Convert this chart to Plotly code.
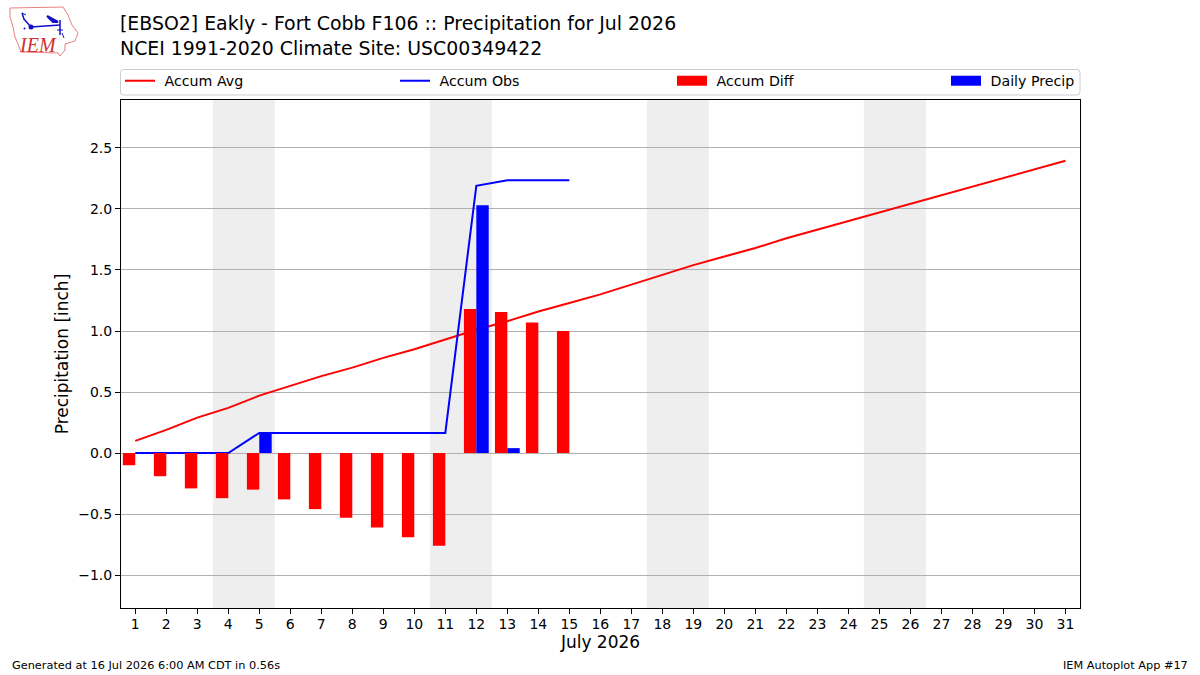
import plotly.graph_objects as go

WIDTH, HEIGHT = 1200, 675
LEFT, RIGHT, TOP, BOTTOM = 121, 1080, 100, 608

days = list(range(1, 32))
accum_avg = [0.10, 0.19, 0.29, 0.37, 0.47, 0.55, 0.63, 0.70, 0.78, 0.85, 0.93,
             1.01, 1.08, 1.16, 1.23, 1.30, 1.38, 1.46, 1.54, 1.61, 1.68, 1.76,
             1.83, 1.90, 1.97, 2.04, 2.11, 2.18, 2.25, 2.32, 2.395]
obs_days = list(range(1, 16))
accum_obs = [0, 0, 0, 0, 0.165, 0.165, 0.165, 0.165, 0.165, 0.165, 0.165,
             2.19, 2.235, 2.235, 2.235]
accum_diff = [-0.10, -0.19, -0.29, -0.37, -0.30, -0.38, -0.46, -0.53, -0.61,
              -0.69, -0.76, 1.18, 1.155, 1.07, 1.00]
daily_precip = [0, 0, 0, 0, 0.165, 0, 0, 0, 0, 0, 0, 2.03, 0.04, 0, 0]
weekend_spans = [(3.5, 5.5), (10.5, 12.5), (17.5, 19.5), (24.5, 26.5)]
y_ticks = [-1.0, -0.5, 0.0, 0.5, 1.0, 1.5, 2.0, 2.5]
y_tick_labels = ["\u22121.0", "\u22120.5", "0.0", "0.5", "1.0", "1.5", "2.0", "2.5"]
x_range = [0.54, 31.47]
y_range = [-1.27, 2.893]

FONT = "DejaVu Sans"
NBSP = "\u00a0"


def px(x):
    return (x - LEFT) / (RIGHT - LEFT)


def py(y):
    return (BOTTOM - y) / (BOTTOM - TOP)


def path(points, close=False):
    body = " L ".join(f"{px(x):.5f},{py(y):.5f}" for x, y in points)
    return "M " + body + (" Z" if close else "")


def rounded_box(x0, y0, x1, y1, r):
    c = lambda x, y: f"{px(x):.5f},{py(y):.5f}"
    return (f"M {c(x0 + r, y0)} L {c(x1 - r, y0)} Q {c(x1, y0)} {c(x1, y0 + r)} "
            f"L {c(x1, y1 - r)} Q {c(x1, y1)} {c(x1 - r, y1)} "
            f"L {c(x0 + r, y1)} Q {c(x0, y1)} {c(x0, y1 - r)} "
            f"L {c(x0, y0 + r)} Q {c(x0, y0)} {c(x0 + r, y0)} Z")


fig = go.Figure()

# Lines sit on the base axes; bars go on an overlay so they paint over the lines.
fig.add_trace(go.Scatter(x=days, y=accum_avg, mode="lines", name=NBSP + "Accum Avg",
                         line=dict(color="#ff0000", width=2), legend="legend"))
fig.add_trace(go.Scatter(x=obs_days, y=accum_obs, mode="lines", name=NBSP + "Accum Obs",
                         line=dict(color="#0000ff", width=2), legend="legend2"))
fig.add_trace(go.Bar(x=obs_days, y=accum_diff, width=0.4, offset=-0.4,
                     marker=dict(color="#ff0000", line=dict(width=0)),
                     xaxis="x2", yaxis="y2", showlegend=False, name="Accum Diff"))
fig.add_trace(go.Bar(x=obs_days, y=daily_precip, width=0.4, offset=0,
                     marker=dict(color="#0000ff", line=dict(width=0)),
                     xaxis="x2", yaxis="y2", showlegend=False, name="Daily Precip"))
# Thick legend keys for the two bar series
fig.add_trace(go.Scatter(x=[None], y=[None], mode="lines", name=NBSP + "Accum Diff",
                         line=dict(color="#ff0000", width=10), legend="legend3"))
fig.add_trace(go.Scatter(x=[None], y=[None], mode="lines", name=NBSP + "Daily Precip",
                         line=dict(color="#0000ff", width=10), legend="legend4"))

shapes = [dict(type="rect", layer="below", xref="x", yref="paper",
               x0=a, x1=b, y0=0, y1=1, fillcolor="#eeeeee", line=dict(width=0))
          for a, b in weekend_spans]

# Frame shared by the four legend columns
shapes.append(dict(type="path", xref="paper", yref="paper", layer="below",
                   path=rounded_box(120.5, 69.5, 1080, 95, 3),
                   line=dict(color="#cccccc", width=1), fillcolor="white"))

# Site logo: state outline and station glyphs
outline = [(10, 8), (63, 7), (68, 15), (72, 25), (78, 33), (75, 41), (65, 44),
           (65, 50), (60, 56), (58, 53), (21, 52), (18, 44), (15, 37), (13, 27), (10, 17)]
shapes.append(dict(type="path", xref="paper", yref="paper", path=path(outline, True),
                   line=dict(color="#e88080", width=1), fillcolor="white"))
glyph_lines = [
    ([(31, 27), (60, 25)], 1.5),
    ([(31, 27), (24, 19), (22, 13)], 1.5),
    ([(22, 13), (26, 15)], 1),
    ([(47, 16), (58, 22), (53, 22), (47, 16)], 2),
    ([(60, 20), (60, 35)], 1.5),
    ([(57, 30), (63, 30)], 1),
    ([(62, 33), (64, 38)], 1),
    ([(24, 28), (25, 29)], 2),
]
for pts, w in glyph_lines:
    shapes.append(dict(type="path", xref="paper", yref="paper", path=path(pts),
                       line=dict(color="#1010c8", width=w)))
shapes.append(dict(type="circle", xref="paper", yref="paper",
                   x0=px(28.5), x1=px(33.5), y0=py(29.5), y1=py(24.5),
                   fillcolor="#1010c8", line=dict(width=0)))

annotations = [
    dict(text="<i>IEM</i>", x=px(37.5), y=py(45), xref="paper", yref="paper", showarrow=False,
         xanchor="center", yanchor="middle",
         font=dict(family="Liberation Serif", size=20, color="#d03030")),
    dict(text="Generated at 16 Jul 2026 6:00 AM CDT in 0.56s", x=px(10), y=py(665),
         xref="paper", yref="paper", showarrow=False, xanchor="left", yanchor="middle",
         font=dict(family=FONT, size=11.3, color="black")),
    dict(text="IEM Autoplot App #17", x=px(1190), y=py(665), xref="paper", yref="paper",
         showarrow=False, xanchor="right", yanchor="middle",
         font=dict(family=FONT, size=11.3, color="black")),
]

axis_common = dict(showline=True, linecolor="black", linewidth=1, mirror=True,
                   ticks="outside", ticklen=5, tickwidth=1, tickcolor="black",
                   zeroline=False, tickfont=dict(family=FONT, size=14, color="black"))


def legend_column(left):
    return dict(x=px(left), xanchor="left", y=py(65), yanchor="top", itemwidth=30,
                bgcolor="rgba(0,0,0,0)", borderwidth=0,
                font=dict(family=FONT, size=14.2, color="black"))


fig.update_layout(
    width=WIDTH, height=HEIGHT,
    margin=dict(l=LEFT, r=WIDTH - RIGHT, t=TOP, b=HEIGHT - BOTTOM, autoexpand=False),
    paper_bgcolor="white", plot_bgcolor="white",
    font=dict(family=FONT, color="black"),
    barmode="overlay",
    title=dict(text="[EBSO2] Eakly - Fort Cobb F106 :: Precipitation for Jul 2026<br>"
                    "NCEI 1991-2020 Climate Site: USC00349422",
               x=120 / WIDTH, xanchor="left", xref="container",
               y=1 - 30 / HEIGHT, yanchor="top", yref="container",
               font=dict(family=FONT, size=18.9, color="black")),
    legend=legend_column(120),
    legend2=legend_column(395),
    legend3=legend_column(672),
    legend4=legend_column(946),
    xaxis=dict(range=x_range, tickmode="array", tickvals=days,
               ticktext=[str(d) for d in days], showgrid=False, ticklabelstandoff=-2,
               title=dict(text="July 2026", standoff=5,
                          font=dict(family=FONT, size=17)), **axis_common),
    yaxis=dict(range=y_range, tickmode="array", tickvals=y_ticks,
               ticktext=y_tick_labels, showgrid=True, gridcolor="#b0b0b0", gridwidth=1,
               title=dict(text="Precipitation [inch]", standoff=5,
                          font=dict(family=FONT, size=17)), **axis_common),
    xaxis2=dict(range=x_range, overlaying="x", visible=False, anchor="y2"),
    yaxis2=dict(range=y_range, overlaying="y", visible=False, anchor="x2"),
    shapes=shapes,
    annotations=annotations,
    showlegend=True,
)

fig.write_html("out.html")
